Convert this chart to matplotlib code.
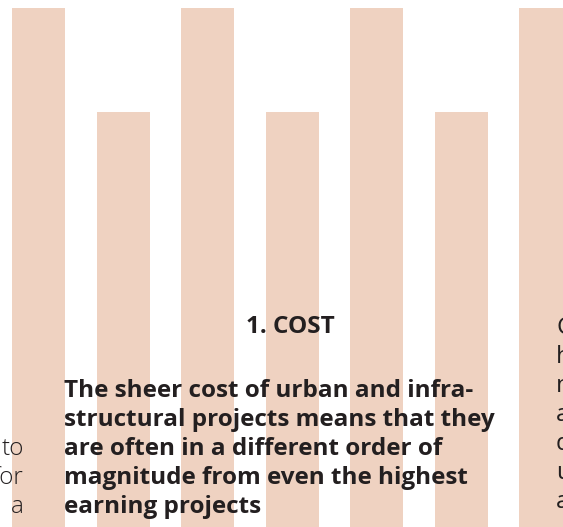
import matplotlib
matplotlib.use('Agg')
import matplotlib.pyplot as plt

# bar heights (tall / short alternating)
positions = [0, 1, 2, 3, 4, 5, 6]
heights = [100, 80, 100, 80, 100, 80, 100]
bar_color = '#EFD2C1'
text_color = '#231F20'

heading = '1. COST'
body_lines = ['The sheer cost of urban and infra-',
              'structural projects means that they',
              'are often in a different order of',
              'magnitude from even the highest',
              'earning projects']
left_bits = ['to', 'for', 'a']
right_bits = ['C', 'h', 'n', 'a', 'd', 'u', 'a']

W, H = 563, 527
fig = plt.figure(figsize=(W / 100, H / 100), dpi=100)
ax = fig.add_axes([0, 0, 1, 1])
ax.bar(positions, heights, width=0.627, color=bar_color, linewidth=0)
ax.set_xlim(-0.456, 6.207)
ax.set_ylim(0, 101.54)
ax.axis('off')

def px(x, y):
    return x / W, 1 - y / H

font = 'Open Sans'
fs = 17.5

fig.text(*px(290.5, 333), heading, ha='center', va='baseline',
         fontsize=fs, fontweight='bold', family=font, color=text_color)

for i, line in enumerate(body_lines):
    fig.text(*px(64, 397 + 29 * i), line, ha='left', va='baseline',
             fontsize=fs, fontweight='bold', family=font, color=text_color)

for i, s in enumerate(left_bits):
    fig.text(*px(24, 455 + 29 * i), s, ha='right', va='baseline',
             fontsize=fs, fontweight='light', family=font, color=text_color)

for i, s in enumerate(right_bits):
    fig.text(*px(556, 334 + 29 * i), s, ha='left', va='baseline',
             fontsize=fs, fontweight='normal', family=font, color=text_color)

fig.savefig('out.png', dpi=100)
